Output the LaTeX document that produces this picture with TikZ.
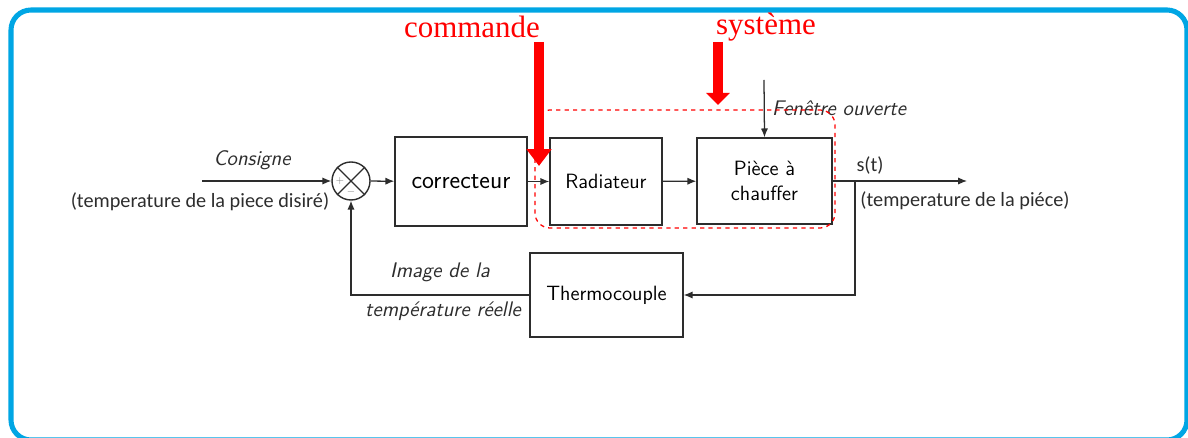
\documentclass[tikz,border=0pt]{standalone}
\usepackage{fontspec}
\newfontfamily\labelfont{Carlito}
\newfontfamily\notefont{Liberation Serif}
\usetikzlibrary{arrows.meta}
\definecolor{framecyan}{RGB}{0,166,228}
\definecolor{linegray}{RGB}{45,45,45}
\tikzset{
  blk/.style={draw=linegray, line width=1pt, fill=white, align=center,
    font=\sffamily\fontsize{14.7}{18}\selectfont},
  sig/.style={draw=linegray, line width=0.9pt, -{Latex[length=2.2mm,width=1.8mm]}},
  itlabel/.style={font=\sffamily\itshape\fontsize{15}{18}\selectfont, text=linegray},
  plabel/.style={font=\labelfont\fontsize{14.4}{17}\selectfont, text=linegray},
  redtxt/.style={font=\notefont\fontsize{22}{26}\selectfont, text=red},
  redarrow/.style={draw=red, line width=7pt}
}
\begin{document}
\begin{tikzpicture}[x=0.025cm, y=-0.025cm]
  \useasboundingbox (0,0) rectangle (1188,438);
  \clip (0,0) rectangle (1188,438);
  % outer frame
  \draw[framecyan, line width=3.6pt, rounded corners=0.5cm] (11,10) rectangle (1187,440);

  % blocks
  \node[draw=linegray, line width=1pt, circle, minimum size=0.95cm, inner sep=0pt] (sum) at (351,181) {};
  \draw[linegray, line width=0.9pt] (sum.north west) -- (sum.south east) (sum.north east) -- (sum.south west);
  \node[font=\sffamily\scriptsize, text=gray, inner sep=0pt] (plus) at (340,181) {$+$};
  \node[font=\sffamily\scriptsize, text=gray, inner sep=0pt] (minus) at (351,192) {$-$};
  \node[blk, minimum width=3.3cm, minimum height=2.225cm, font=\sffamily\fontsize{18}{22}\selectfont] (corr) at (461,181.5) {correcteur};
  \node[blk, minimum width=2.8cm, minimum height=2.175cm] (rad) at (606,181.5) {Radiateur};
  \node[blk, minimum width=3.375cm, minimum height=2.15cm] (piece) at (764.5,181) {Pièce à\\chauffer};
  \node[blk, minimum width=3.825cm, minimum height=2.1cm] (thermo) at (606.5,295) {Thermocouple};

  % signals
  \coordinate (in) at (202,181);
  \coordinate (out) at (967,181);
  \coordinate (branch) at (855,181);
  \coordinate (win) at (764,80);
  \draw[sig] (in) -- (sum);
  \draw[sig] (sum) -- (corr);
  \draw[sig] (corr) -- (rad);
  \draw[sig] (rad) -- (piece);
  \draw[sig] (win) -- (piece.north);
  \draw[sig] (piece.east) -- (out);
  \draw[sig] (branch) |- (thermo.east);
  \draw[sig] (thermo.west) -| (sum.south);

  % labels
  \node[itlabel] (consigne) at (252,160) {Consigne};
  \node[plabel] (tdes) at (200,202) {(temperature de la piece disiré)};
  \node[itlabel] (fenetre) at (839,108) {Fenêtre ouverte};
  \node[plabel] (st) at (870,166) {s(t)};
  \node[plabel] (treal) at (965,201) {(temperature de la piéce)};
  \node[itlabel] (img1) at (440,272) {Image de la};
  \node[itlabel] (img2) at (443,311) {température réelle};

  % commande / systeme
  \draw[red, dashed, line width=0.9pt, rounded corners=0.375cm] (535,110) rectangle (835,228);
  \node[redtxt] (cmd) at (472,27) {commande};
  \node[redtxt] (sys) at (766,27) {système};
  \coordinate (cmdtop) at (539,42);
  \coordinate (cmdend) at (539,166);
  \coordinate (systop) at (718,42);
  \coordinate (sysend) at (718,105);
  \draw[redarrow, -{Triangle[width=0.6cm, length=0.42cm]}] (cmdtop) -- (cmdend);
  \draw[redarrow, -{Triangle[width=0.58cm, length=0.3cm]}] (systop) -- (sysend);
\end{tikzpicture}
\end{document}
